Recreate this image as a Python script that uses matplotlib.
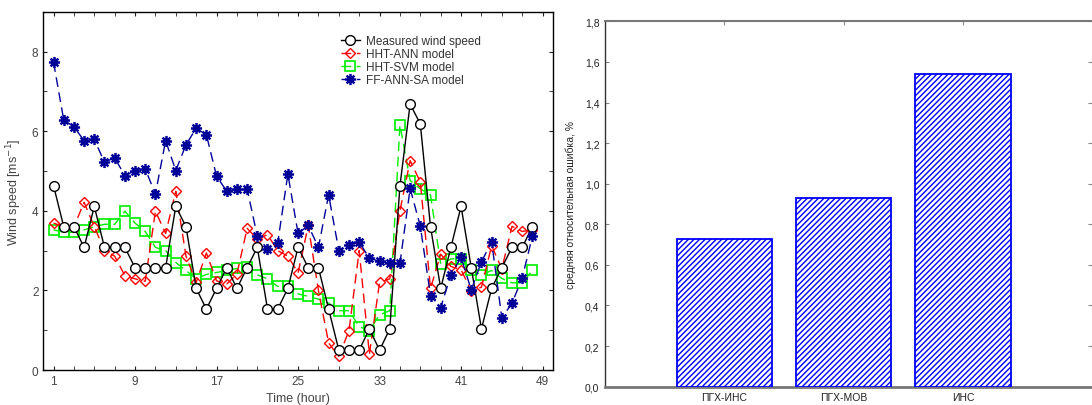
import numpy as np
import matplotlib
matplotlib.use("Agg")
import matplotlib.pyplot as plt
from matplotlib.ticker import MultipleLocator, FuncFormatter
from matplotlib.path import Path

plt.rcParams['font.family'] = ['Liberation Sans', 'DejaVu Sans']
plt.rcParams['hatch.linewidth'] = 1.0

# ---- hourly wind speed data ----
hours = list(range(1, 49))

measured = [4.63, 3.6, 3.6, 3.08, 4.11, 3.08, 3.08, 3.08, 2.57, 2.57,
            2.57, 2.57, 4.11, 3.6, 2.05, 1.53, 2.05, 2.57, 2.05, 2.57,
            3.08, 1.53, 1.53, 2.05, 3.08, 2.57, 2.57, 1.53, 0.5, 0.5,
            0.5, 1.03, 0.5, 1.03, 4.63, 6.68, 6.18, 3.6, 2.05, 3.08,
            4.11, 2.57, 1.03, 2.05, 2.57, 3.08, 3.08, 3.6]

hht_ann = [3.69, 3.6, 3.6, 4.21, 3.6, 3.0, 2.86, 2.37, 2.29, 2.23,
           3.99, 3.43, 4.49, 2.86, 2.2, 2.94, 2.24, 2.16, 2.41, 3.56,
           3.29, 3.4, 3.0, 2.86, 2.44, 3.63, 2.0, 0.68, 0.34, 0.99,
           3.0, 0.4, 2.2, 2.29, 4.0, 5.26, 4.72, 2.05, 2.91, 2.6,
           2.52, 1.99, 2.08, 3.12, 2.54, 3.61, 3.48, 3.52]

hht_svm = [3.52, 3.46, 3.46, 3.52, 3.6, 3.66, 3.66, 3.99, 3.69, 3.48,
           3.08, 3.0, 2.7, 2.5, 2.29, 2.4, 2.45, 2.5, 2.55, 2.58,
           2.39, 2.29, 2.1, 2.1, 1.91, 1.85, 1.78, 1.68, 1.49, 1.49,
           1.09, 0.99, 1.39, 1.49, 6.16, 4.76, 4.55, 4.4, 2.66, 2.79,
           2.8, 2.5, 2.39, 2.5, 2.3, 2.19, 2.19, 2.5]

ff_ann_sa = [7.73, 6.28, 6.11, 5.76, 5.79, 5.22, 5.33, 4.88, 5.01, 5.05,
             4.42, 5.76, 5.01, 5.66, 6.07, 5.91, 4.87, 4.49, 4.55, 4.55,
             3.36, 3.04, 3.19, 4.92, 3.43, 3.63, 3.08, 4.4, 3.0, 3.15,
             3.21, 2.81, 2.73, 2.68, 2.68, 4.56, 3.61, 1.87, 1.57, 2.39,
             2.83, 2.01, 2.72, 3.22, 1.31, 1.68, 2.31, 3.36]

# ---- mean relative error by model ----
models = ['ПГХ-ИНС', 'ПГХ-МОВ', 'ИНС']
mean_error = [0.73, 0.93, 1.54]

# asterisk marker: four crossing strokes
_ang = np.deg2rad([90, 0, 45, 135])
_verts, _codes = [], []
for a in _ang:
    _verts += [(np.cos(a), np.sin(a)), (-np.cos(a), -np.sin(a))]
    _codes += [Path.MOVETO, Path.LINETO]
asterisk = Path(_verts, _codes)

fig = plt.figure(figsize=(10.92, 4.06), dpi=100)

# ---------- left: time series ----------
ax1 = fig.add_axes([0.0397, 0.0862, 0.4665, 0.8825])
grey = '#444444'
ax1.plot(hours, measured, color='black', linestyle='-', linewidth=1.0,
         marker='o', markersize=7, markerfacecolor='white',
         markeredgecolor='black', markeredgewidth=1.0,
         label='Measured wind speed', zorder=4)
ax1.plot(hours, hht_ann, color='#ff0000', linestyle=(0, (7, 4)), linewidth=1.0,
         marker='D', markersize=5.5, markerfacecolor='none',
         markeredgecolor='#ff0000', markeredgewidth=1.0,
         label='HHT-ANN model', zorder=3)
ax1.plot(hours, hht_svm, color='#00ee00', linestyle=(0, (7, 4)), linewidth=1.0,
         marker='s', markersize=7, markerfacecolor='none',
         markeredgecolor='#00ee00', markeredgewidth=1.2,
         label='HHT-SVM model', zorder=2)
ax1.plot(hours, ff_ann_sa, color='#000099', linestyle=(0, (7, 4)), linewidth=1.0,
         marker=asterisk, markersize=8, markerfacecolor='#000099',
         markeredgecolor='#000099', markeredgewidth=1.8,
         label='FF-ANN-SA model', zorder=5)

ax1.set_xlim(0, 50)
ax1.set_ylim(0, 9)
ax1.set_xticks([1, 9, 17, 25, 33, 41, 49])
ax1.set_xticks(list(range(1, 50, 2)), minor=True)
ax1.yaxis.set_major_locator(MultipleLocator(2))
ax1.yaxis.set_minor_locator(MultipleLocator(1))
ax1.tick_params(which='both', direction='in', top=True, right=True,
                labelsize=8.5, labelcolor=grey, color='#222222', length=3)
for s in ax1.spines.values():
    s.set_linewidth(1.0)
ax1.set_xlabel('Time (hour)', fontsize=9, color=grey, labelpad=4)
ax1.set_ylabel('Wind speed [ms$^{-1}$]', fontsize=9, color=grey, labelpad=6)
leg = ax1.legend(loc='upper left', bbox_to_anchor=(0.57, 0.955), frameon=False,
                 fontsize=8.5, handlelength=1.6, handletextpad=0.5,
                 labelspacing=0.1, borderaxespad=0.2)
for t in leg.get_texts():
    t.set_color('#333333')

# ---------- right: bar chart ----------
ax2 = fig.add_axes([0.554, 0.0451, 0.446, 0.8999])
positions = np.arange(1, len(models) + 1)
ax2.bar(positions, mean_error, width=0.8, facecolor='white',
        edgecolor='#0000ff', linewidth=1.3, hatch='//////', zorder=3)
ax2.set_xlim(0, 4.08)
ax2.set_ylim(0, 1.8)
ax2.set_xticks(positions)
ax2.set_xticklabels(models)
ax2.yaxis.set_major_locator(MultipleLocator(0.2))
ax2.yaxis.set_major_formatter(FuncFormatter(lambda v, p: f'{v:.1f}'.replace('.', ',')))
ax2.tick_params(axis='x', which='both', bottom=False, top=True, direction='in',
                length=3, color='#888888', labelsize=7.5, labelcolor='#222222', pad=4)
ax2.tick_params(axis='y', which='both', left=True, right=True, direction='in',
                length=3, color='#888888', labelsize=7.5, labelcolor='#222222', pad=4)
ax2.spines['left'].set_color('#333333')
ax2.spines['left'].set_linewidth(1.0)
ax2.spines['bottom'].set_color('#777777')
ax2.spines['bottom'].set_linewidth(2.0)
ax2.spines['top'].set_color('#777777')
ax2.spines['top'].set_linewidth(1.5)
ax2.spines['right'].set_visible(False)
ax2.set_ylabel('средняя относительная ошибка, %', fontsize=7.5,
               color='#222222', labelpad=6)

fig.savefig('out.png', dpi=100)
